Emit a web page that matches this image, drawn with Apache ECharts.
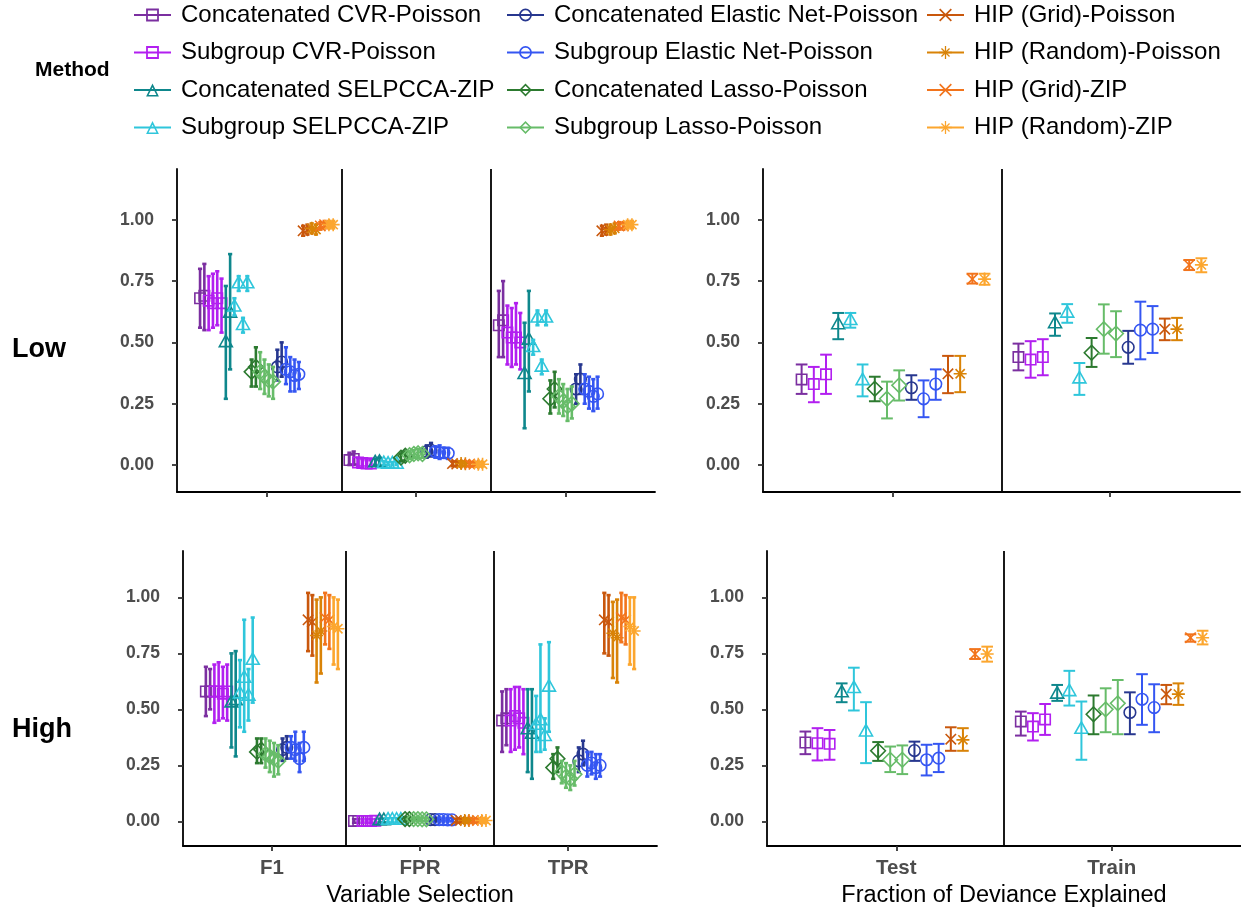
<!DOCTYPE html>
<html><head><meta charset="utf-8">
<script src="https://cdn.jsdelivr.net/npm/echarts@6/dist/echarts.min.js"></script>
<style>html,body{margin:0;padding:0;background:#fff}#c{width:1241px;height:912px}</style>
</head><body><div id="c"></div><script>
// ---------------- DATA ----------------
const methods = [
  'Concatenated CVR-Poisson','Subgroup CVR-Poisson','Concatenated SELPCCA-ZIP','Subgroup SELPCCA-ZIP',
  'Concatenated Elastic Net-Poisson','Subgroup Elastic Net-Poisson','Concatenated Lasso-Poisson','Subgroup Lasso-Poisson',
  'HIP (Grid)-Poisson','HIP (Random)-Poisson','HIP (Grid)-ZIP','HIP (Random)-ZIP'
];
const methodColors = ['#7B2FA0','#B21FF0','#0E878C','#2FC6DB','#27378F','#3556F2','#2C7A2F','#67BC69','#C9570C','#D98307','#F2741C','#FCA62E'];
const methodShapes = ['square','square','triangle','triangle','circle','circle','diamond','diamond','x','asterisk','x','asterisk'];
// dodge slots (left to right) -> method index
const slotMethod = [0,1,1,2,3,3,6,7,7,4,5,5,8,9,10,11];
const varCategories = ['F1','FPR','TPR'];
const devCategories = ['Test','Train'];
const settings = ['Low','High'];
const yTicks = [0, 0.25, 0.5, 0.75, 1];

// Variable selection: two estimates per slot, [mean, lower, upper]
const varLowF1 = [
  [0.68,0.56,0.80],[0.69,0.55,0.82],[0.67,0.55,0.77],[0.66,0.56,0.78],[0.68,0.57,0.79],[0.66,0.54,0.76],
  [0.50,0.27,0.73],[0.62,0.39,0.86],[0.645,0.61,0.68],[0.74,0.71,0.77],[0.57,0.54,0.60],[0.74,0.71,0.77],
  [0.38,0.32,0.43],[0.40,0.32,0.48],[0.38,0.31,0.46],[0.36,0.29,0.43],[0.345,0.28,0.41],[0.34,0.27,0.40],
  [0.40,0.345,0.47],[0.42,0.36,0.50],[0.39,0.33,0.48],[0.38,0.30,0.44],[0.365,0.30,0.43],[0.37,0.31,0.42],
  [0.955,0.935,0.975],[0.96,0.94,0.98],[0.965,0.945,0.985],[0.96,0.94,0.98],[0.975,0.96,0.99],[0.98,0.965,0.995],[0.98,0.965,0.995],[0.98,0.965,0.995]
];
const varLowFPR = [
  [0.02,0.0,0.05],[0.025,0.0,0.055],[0.01,-0.005,0.03],[0.008,-0.005,0.025],[0.006,-0.005,0.02],[0.006,-0.005,0.02],
  [0.01,0.0,0.025],[0.012,0.0,0.03],[0.006,0.0,0.015],[0.004,0.0,0.012],[0.005,0.0,0.012],[0.004,0.0,0.01],
  [0.03,0.015,0.045],[0.038,0.02,0.055],[0.04,0.025,0.055],[0.045,0.03,0.06],[0.048,0.03,0.065],[0.045,0.03,0.06],
  [0.055,0.03,0.08],[0.06,0.035,0.09],[0.055,0.03,0.075],[0.05,0.025,0.08],[0.05,0.03,0.07],[0.048,0.025,0.07],
  [0.006,-0.005,0.015],[0.004,-0.005,0.015],[0.006,-0.005,0.015],[0.005,-0.005,0.015],[0.004,-0.005,0.012],[0.003,-0.005,0.012],[0.003,-0.006,0.012],[0.003,-0.006,0.012]
];
const varLowTPR = [
  [0.57,0.44,0.71],[0.59,0.44,0.75],[0.54,0.41,0.65],[0.52,0.40,0.64],[0.52,0.41,0.66],[0.50,0.39,0.62],
  [0.37,0.15,0.58],[0.51,0.30,0.71],[0.48,0.45,0.51],[0.60,0.57,0.63],[0.40,0.37,0.43],[0.60,0.57,0.63],
  [0.27,0.21,0.345],[0.31,0.235,0.38],[0.28,0.21,0.35],[0.26,0.20,0.33],[0.24,0.18,0.31],[0.25,0.19,0.32],
  [0.31,0.25,0.37],[0.35,0.29,0.41],[0.31,0.25,0.37],[0.30,0.23,0.36],[0.28,0.22,0.35],[0.29,0.23,0.36],
  [0.955,0.935,0.975],[0.96,0.94,0.98],[0.96,0.94,0.98],[0.965,0.945,0.985],[0.975,0.96,0.99],[0.975,0.96,0.99],[0.98,0.965,0.995],[0.98,0.965,0.995]
];
const varHighF1 = [
  [0.58,0.47,0.69],[0.58,0.50,0.68],[0.58,0.44,0.70],[0.58,0.45,0.71],[0.57,0.46,0.69],[0.58,0.45,0.70],
  [0.53,0.33,0.75],[0.54,0.29,0.76],[0.57,0.42,0.72],[0.64,0.40,0.90],[0.56,0.45,0.68],[0.72,0.53,0.91],
  [0.31,0.26,0.37],[0.32,0.26,0.37],[0.30,0.24,0.37],[0.29,0.22,0.36],[0.28,0.20,0.35],[0.27,0.21,0.34],
  [0.32,0.27,0.37],[0.33,0.28,0.38],[0.33,0.28,0.38],[0.32,0.27,0.40],[0.28,0.22,0.35],[0.33,0.27,0.40],
  [0.90,0.76,1.02],[0.89,0.74,1.01],[0.83,0.62,0.99],[0.85,0.66,1.00],[0.91,0.79,1.02],[0.90,0.77,1.01],[0.87,0.70,1.00],[0.86,0.68,0.99]
];
const varHighFPR = [
  [0.002,-0.006,0.01],[0.002,-0.006,0.01],[0.002,-0.006,0.01],[0.002,-0.006,0.01],[0.002,-0.006,0.01],[0.003,-0.006,0.01],
  [0.004,-0.004,0.012],[0.004,-0.004,0.012],[0.006,-0.003,0.014],[0.006,-0.003,0.014],[0.006,-0.003,0.014],[0.006,-0.003,0.014],
  [0.01,0.0,0.018],[0.01,0.0,0.018],[0.01,0.0,0.018],[0.01,0.0,0.018],[0.009,0.0,0.017],[0.009,0.0,0.017],
  [0.008,0.0,0.016],[0.008,0.0,0.016],[0.008,0.0,0.016],[0.008,0.0,0.016],[0.007,0.0,0.015],[0.007,0.0,0.015],
  [0.004,-0.005,0.012],[0.004,-0.005,0.012],[0.004,-0.005,0.012],[0.004,-0.005,0.012],[0.004,-0.005,0.012],[0.004,-0.005,0.012],[0.004,-0.005,0.012],[0.004,-0.005,0.012]
];
const varHighTPR = [
  [0.45,0.31,0.58],[0.46,0.34,0.59],[0.45,0.31,0.59],[0.47,0.32,0.60],[0.46,0.33,0.60],[0.44,0.30,0.59],
  [0.41,0.22,0.59],[0.39,0.19,0.59],[0.43,0.31,0.56],[0.45,0.31,0.79],[0.38,0.32,0.46],[0.60,0.40,0.80],
  [0.24,0.19,0.30],[0.28,0.22,0.33],[0.22,0.17,0.27],[0.20,0.15,0.26],[0.19,0.14,0.25],[0.21,0.16,0.27],
  [0.27,0.22,0.33],[0.30,0.25,0.36],[0.25,0.20,0.31],[0.26,0.21,0.31],[0.24,0.19,0.30],[0.25,0.20,0.30],
  [0.90,0.75,1.02],[0.89,0.74,1.01],[0.84,0.64,0.98],[0.82,0.62,0.99],[0.91,0.80,1.02],[0.90,0.79,1.01],[0.87,0.70,1.00],[0.85,0.68,1.00]
];
// Fraction of deviance explained: one estimate per slot, [mean, lower, upper]
const devLowTest = [
  [0.349,0.29,0.41],[0.33,0.256,0.40],[0.37,0.29,0.45],[0.573,0.513,0.62],[0.59,0.56,0.62],[0.345,0.28,0.41],
  [0.311,0.26,0.36],[0.27,0.19,0.34],[0.325,0.263,0.386],[0.315,0.266,0.366],[0.27,0.195,0.345],[0.33,0.266,0.39],
  [0.372,0.293,0.445],[0.372,0.297,0.445],[0.758,0.74,0.78],[0.758,0.735,0.78]
];
const devLowTrain = [
  [0.44,0.386,0.495],[0.43,0.356,0.505],[0.44,0.366,0.513],[0.577,0.527,0.618],[0.62,0.58,0.656],[0.352,0.286,0.416],
  [0.458,0.40,0.518],[0.554,0.454,0.655],[0.536,0.44,0.627],[0.48,0.413,0.547],[0.55,0.431,0.666],[0.554,0.457,0.648],
  [0.554,0.509,0.597],[0.554,0.509,0.60],[0.816,0.795,0.836],[0.816,0.786,0.843]
];
const devHighTest = [
  [0.352,0.30,0.401],[0.349,0.272,0.416],[0.346,0.275,0.408],[0.575,0.532,0.616],[0.594,0.495,0.686],[0.40,0.26,0.532],
  [0.315,0.27,0.354],[0.275,0.22,0.334],[0.275,0.211,0.339],[0.316,0.27,0.356],[0.275,0.205,0.342],[0.282,0.22,0.346],
  [0.367,0.315,0.42],[0.364,0.315,0.416],[0.747,0.725,0.769],[0.747,0.713,0.78]
];
const devHighTrain = [
  [0.446,0.383,0.49],[0.423,0.361,0.483],[0.455,0.386,0.524],[0.569,0.538,0.609],[0.58,0.517,0.672],[0.412,0.275,0.535],
  [0.478,0.389,0.562],[0.50,0.398,0.594],[0.527,0.389,0.631],[0.486,0.389,0.576],[0.545,0.431,0.657],[0.508,0.398,0.612],
  [0.568,0.523,0.609],[0.568,0.52,0.616],[0.82,0.802,0.835],[0.82,0.79,0.851]
];

// ---------------- BUILD ----------------
const FONT = 'Liberation Sans, Arial, Helvetica, sans-serif';
const panels = [
  {cats:varCategories, data:[varLowF1, varLowFPR, varLowTPR], cap:0.028, lw:2.6, dodge:0.92, showLabels:false, name:''},
  {cats:devCategories, data:[devLowTest, devLowTrain], cap:0.054, lw:2.0, dodge:0.9, showLabels:false, name:''},
  {cats:varCategories, data:[varHighF1, varHighFPR, varHighTPR], cap:0.028, lw:2.6, dodge:0.92, showLabels:true, name:'Variable Selection'},
  {cats:devCategories, data:[devHighTest, devHighTrain], cap:0.054, lw:2.0, dodge:0.9, showLabels:true, name:'Fraction of Deviance Explained'}
];
const grids = [
  {left:177, width:478, top:169, height:323},
  {left:763, width:477, top:169, height:323},
  {left:183, width:474, top:551, height:295},
  {left:767, width:474, top:551, height:295}
];

function markerEl(shape, cx, cy, color) {
  const st = {stroke: color, fill: 'none', lineWidth: 1.6};
  switch (shape) {
    case 'square': return {type:'rect', shape:{x:cx-5.2, y:cy-5.2, width:10.4, height:10.4}, style:st};
    case 'circle': return {type:'circle', shape:{cx:cx, cy:cy, r:5.8}, style:st};
    case 'triangle': return {type:'polygon', shape:{points:[[cx,cy-7.3],[cx+6.5,cy+4.2],[cx-6.5,cy+4.2]]}, style:st};
    case 'diamond': return {type:'polygon', shape:{points:[[cx,cy-7.3],[cx+7.3,cy],[cx,cy+7.3],[cx-7.3,cy]]}, style:st};
    case 'x': return {type:'path', shape:{pathData:`M${cx-5.2},${cy-5.2}L${cx+5.2},${cy+5.2}M${cx+5.2},${cy-5.2}L${cx-5.2},${cy+5.2}`}, style:st};
    default: return {type:'path', shape:{pathData:`M${cx-4.6},${cy-4.6}L${cx+4.6},${cy+4.6}M${cx+4.6},${cy-4.6}L${cx-4.6},${cy+4.6}M${cx},${cy-6.5}L${cx},${cy+6.5}M${cx-6.5},${cy}L${cx+6.5},${cy}`}, style:st};
  }
}
function makeRender(mi, cap, lw) {
  const color = methodColors[mi], shape = methodShapes[mi];
  return function (params, api) {
    const x = api.value(0);
    const pm = api.coord([x, api.value(1)]);
    const pl = api.coord([x, api.value(2)]);
    const ph = api.coord([x, api.value(3)]);
    const hw = api.size([cap, 0])[0] / 2;
    const ls = {stroke: color, lineWidth: lw};
    return {type:'group', children:[
      {type:'line', shape:{x1:pl[0], y1:pl[1], x2:ph[0], y2:ph[1]}, style:ls},
      {type:'line', shape:{x1:pl[0]-hw, y1:pl[1], x2:pl[0]+hw, y2:pl[1]}, style:ls},
      {type:'line', shape:{x1:ph[0]-hw, y1:ph[1], x2:ph[0]+hw, y2:ph[1]}, style:ls},
      markerEl(shape, pm[0], pm[1], color)
    ]};
  };
}

const xAxes = [], yAxes = [], series = [];
// legend proxy series (ring-shaped symbols so the key line shows through)
const legendIcons = {
  square: 'path://M0,0L100,0L100,100L0,100ZM14,14L14,86L86,86L86,14Z',
  triangle: 'path://M50,0L100,90L0,90ZM50,26L19,80L81,80Z',
  circle: 'path://M50,0A50,50,0,1,1,49.9,0ZM50,13A37,37,0,1,0,50.1,13Z',
  diamond: 'path://M50,0L100,50L50,100L0,50ZM50,17L17,50L50,83L83,50Z',
  x: 'path://M0,9L9,0L100,91L91,100ZM91,0L100,9L9,100L0,91Z',
  asterisk: 'path://M45,0L55,0L55,100L45,100ZM0,45L100,45L100,55L0,55ZM15,22L22,15L85,78L78,85ZM78,15L85,22L22,85L15,78Z'
};
methods.forEach((m, i) => {
  series.push({type:'line', name:m, data:[], xAxisIndex:0, yAxisIndex:0, symbol:legendIcons[methodShapes[i]],
    symbolSize:13, itemStyle:{color:methodColors[i]}, lineStyle:{color:methodColors[i], width:1.6}});
});

panels.forEach((p, pi) => {
  const nCat = p.cats.length;
  const ticks = p.cats.map((c, i) => i + 1);
  xAxes.push({type:'value', gridIndex:pi, min:0.4, max:nCat + 0.6,
    axisLine:{show:true, onZero:false, lineStyle:{color:'#000', width:1.8}},
    axisTick:{show:true, length:5, customValues:ticks, lineStyle:{color:'#333', width:1.8}},
    axisLabel:{show:p.showLabels, customValues:ticks, formatter:v => p.cats[Math.round(v) - 1] || '',
      color:'#4d4d4d', fontWeight:'bold', fontSize:20.5, fontFamily:FONT, margin:12},
    splitLine:{show:false},
    name:p.name, nameLocation:'middle', nameGap:38, nameTextStyle:{color:'#000', fontSize:23.5, fontFamily:FONT}
  });
  yAxes.push({type:'value', gridIndex:pi, min:-0.11, max:1.207,
    axisLine:{show:true, onZero:false, lineStyle:{color:'#000', width:1.8}},
    axisTick:{show:true, length:5, customValues:yTicks, lineStyle:{color:'#333', width:1.8}},
    axisLabel:{customValues:yTicks, formatter:v => v.toFixed(2), color:'#4d4d4d', fontWeight:'bold', fontSize:17.5, fontFamily:FONT, margin:23},
    splitLine:{show:false}
  });
  const perMethod = methods.map(() => []);
  p.data.forEach((arr, ci) => {
    const n = arr.length;
    const per = n / slotMethod.length;
    arr.forEach((d, j) => {
      const mi = slotMethod[Math.floor(j / per)];
      const x = ci + 1 + (j - (n - 1) / 2) * (p.dodge / n);
      perMethod[mi].push([x, d[0], d[1], d[2]]);
    });
  });
  const seps = [];
  for (let k = 1; k < nCat; k++) seps.push({xAxis: k + 0.5});
  series.push({type:'line', data:[], xAxisIndex:pi, yAxisIndex:pi, silent:true,
    markLine:{symbol:'none', silent:true, label:{show:false}, animation:false,
      lineStyle:{color:'#000', width:1.8, type:'solid'}, data:seps}});
  perMethod.forEach((pts, mi) => {
    series.push({type:'custom', name:methods[mi], xAxisIndex:pi, yAxisIndex:pi, data:pts,
      encode:{x:0, y:[1,2,3]}, renderItem:makeRender(mi, p.cap, p.lw), clip:false, z:2});
  });
});

const legendBase = {orient:'vertical', top:3, padding:0, itemWidth:37, itemHeight:16, itemGap:13.5,
  textStyle:{fontSize:24, fontFamily:FONT, color:'#000', lineHeight:24, padding:[0,0,0,5]}};
const legends = [
  Object.assign({}, legendBase, {left:133, data:[methods[0],methods[1],methods[2],methods[3]]}),
  Object.assign({}, legendBase, {left:506, data:[methods[4],methods[5],methods[6],methods[7]]}),
  Object.assign({}, legendBase, {left:926, data:[methods[8],methods[9],methods[10],methods[11]]})
];

const chart = echarts.init(document.getElementById('c'), null, {renderer:'canvas'});
chart.setOption({
  animation:false,
  backgroundColor:'#fff',
  title:[
    {text:'Method', left:35, top:60, padding:0, textStyle:{fontSize:21, fontWeight:'bold', fontFamily:FONT, color:'#000'}},
    {text:settings[0], left:12, top:336, padding:0, textStyle:{fontSize:27, fontWeight:'bold', fontFamily:FONT, color:'#000'}},
    {text:settings[1], left:12, top:716, padding:0, textStyle:{fontSize:27, fontWeight:'bold', fontFamily:FONT, color:'#000'}}
  ],
  legend:legends,
  grid:grids,
  xAxis:xAxes,
  yAxis:yAxes,
  series:series
});
</script></body></html>
